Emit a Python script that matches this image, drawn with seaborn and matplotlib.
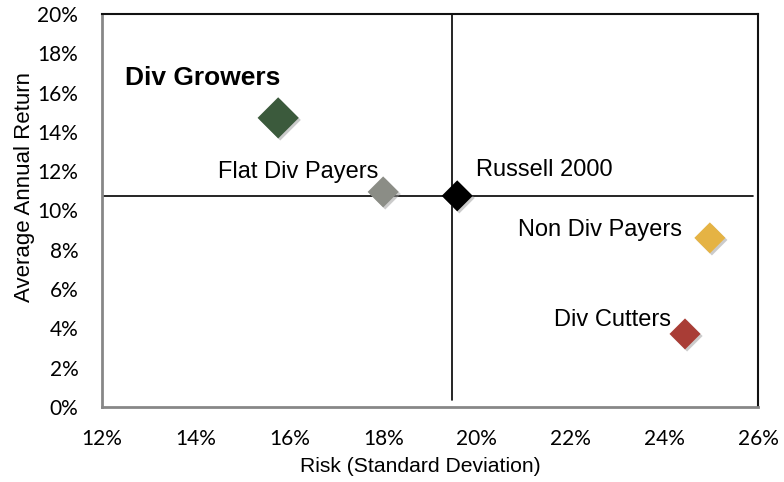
import numpy as np
import pandas as pd
from matplotlib import pyplot as plt
from matplotlib import patheffects
import seaborn as sns

# values (percent)
names = ['Div Growers', 'Flat Div Payers', 'Russell 2000', 'Non Div Payers', 'Div Cutters']
risk = [15.76, 18.0, 19.58, 24.97, 24.44]
ret = [14.71, 10.94, 10.74, 8.6, 3.71]
colors = ['#3b5a3c', '#8b8d86', '#000000', '#e5b344', '#a93d36']
marker_sizes = [440, 250, 250, 250, 250]
x_ticks = [12, 14, 16, 18, 20, 22, 24, 26]
y_ticks = [0, 2, 4, 6, 8, 10, 12, 14, 16, 18, 20]
bench_risk = 19.47
bench_ret = 10.74

df = pd.DataFrame({'name': names, 'risk': risk, 'ret': ret})

sns.set_style('white')
plt.rcParams['font.family'] = ['Liberation Sans', 'DejaVu Sans']
plt.rcParams['text.color'] = 'black'
plt.rcParams['axes.labelcolor'] = 'black'
plt.rcParams['xtick.color'] = 'black'
plt.rcParams['ytick.color'] = 'black'

fig = plt.figure(figsize=(7.84, 4.82), dpi=100)
ax = fig.add_axes([0.130, 0.156, 0.837, 0.815])

# crosshair through the benchmark
ax.plot([11.95, 25.9], [bench_ret, bench_ret], color='black', lw=1.2, zorder=1)
ax.plot([bench_risk, bench_risk], [0.35, 20], color='black', lw=1.2, zorder=1)

g = sns.scatterplot(ax=ax, data=df, x='risk', y='ret',
                    hue='name', palette=dict(zip(names, colors)),
                    size='name', sizes=dict(zip(names, marker_sizes)),
                    marker='D', edgecolor='none', legend=False, zorder=3)
for coll in g.collections:
    coll.set_path_effects([patheffects.SimplePatchShadow(offset=(1.5, -1.5), shadow_rgbFace='#999999', alpha=0.5),
                           patheffects.Normal()])

ax.text(12.49, 16.74, 'Div Growers', fontsize=19, fontweight='bold', ha='left', va='center')
ax.text(17.89, 11.96, 'Flat Div Payers', fontsize=17, ha='right', va='center')
ax.text(19.98, 12.06, 'Russell 2000', fontsize=17, ha='left', va='center')
ax.text(24.38, 9.0, 'Non Div Payers', fontsize=17, ha='right', va='center')
ax.text(24.14, 4.43, 'Div Cutters', fontsize=17, ha='right', va='center')

ax.set_xlim(12, 26)
ax.set_ylim(0, 20)
ax.set_xticks(x_ticks)
ax.set_yticks(y_ticks)
ax.set_xticklabels([f'{t}%' for t in x_ticks], fontfamily='Lato', fontsize=15)
ax.set_yticklabels([f'{t}%' for t in y_ticks], fontfamily='Lato', fontsize=15)
ax.tick_params(axis='both', length=0)
ax.tick_params(axis='x', pad=16)
ax.tick_params(axis='y', pad=17)

ax.set_xlabel('Risk (Standard Deviation)', fontsize=15.2, labelpad=6, x=0.485)
ax.set_ylabel('Average Annual Return', fontsize=16, labelpad=2, y=0.56)

for side in ['left', 'bottom']:
    ax.spines[side].set_color('#878787')
    ax.spines[side].set_linewidth(2)
for side in ['top', 'right']:
    ax.spines[side].set_color('#111111')
    ax.spines[side].set_linewidth(1.5)

plt.savefig('out.png', dpi=100)
